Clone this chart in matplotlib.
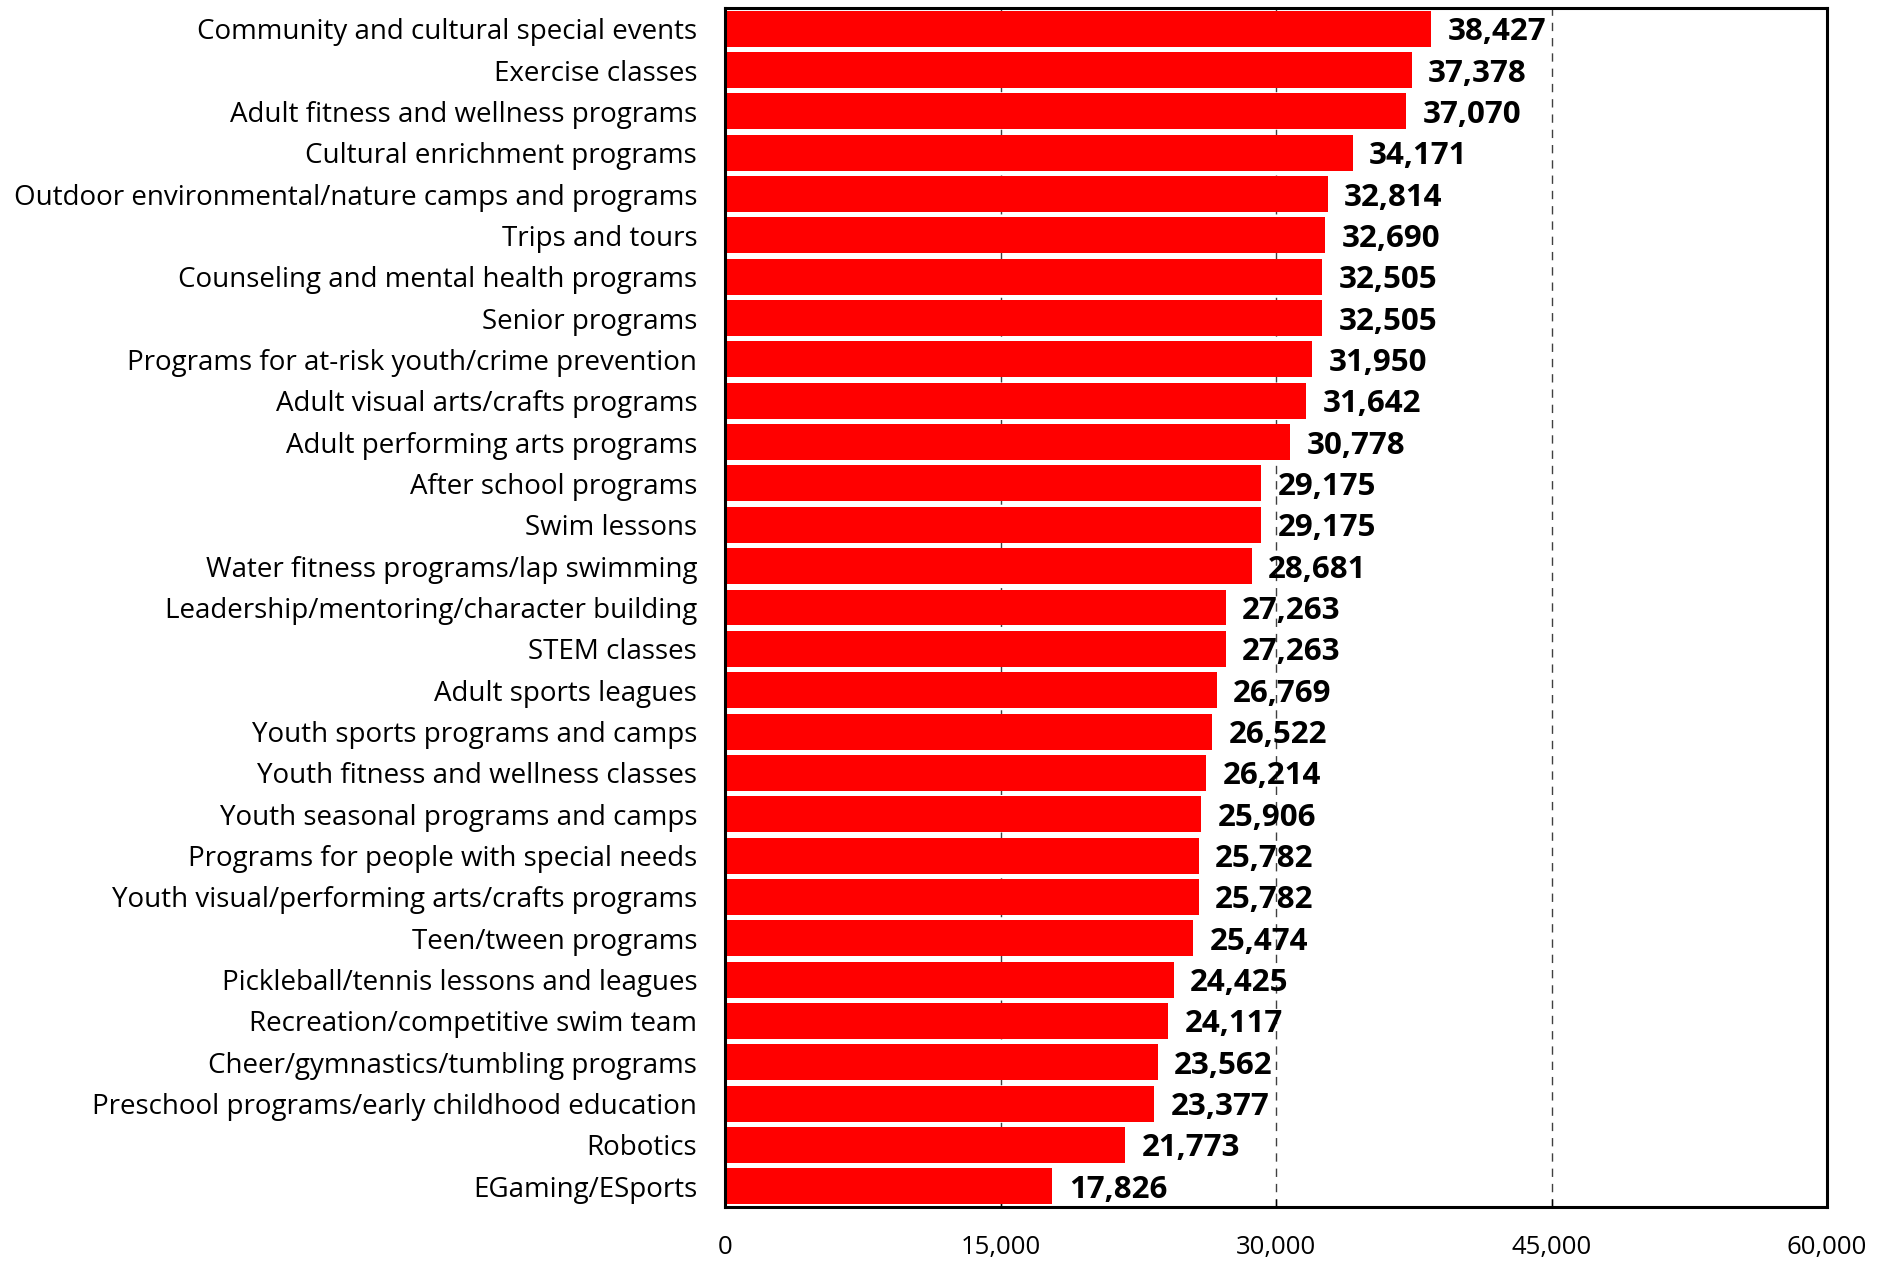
import matplotlib.pyplot as plt
from matplotlib.ticker import FuncFormatter

plt.rcParams['font.family'] = ['Open Sans', 'DejaVu Sans']

programs = [
    'Community and cultural special events',
    'Exercise classes',
    'Adult fitness and wellness programs',
    'Cultural enrichment programs',
    'Outdoor environmental/nature camps and programs',
    'Trips and tours',
    'Counseling and mental health programs',
    'Senior programs',
    'Programs for at-risk youth/crime prevention',
    'Adult visual arts/crafts programs',
    'Adult performing arts programs',
    'After school programs',
    'Swim lessons',
    'Water fitness programs/lap swimming',
    'Leadership/mentoring/character building',
    'STEM classes',
    'Adult sports leagues',
    'Youth sports programs and camps',
    'Youth fitness and wellness classes',
    'Youth seasonal programs and camps',
    'Programs for people with special needs',
    'Youth visual/performing arts/crafts programs',
    'Teen/tween programs',
    'Pickleball/tennis lessons and leagues',
    'Recreation/competitive swim team',
    'Cheer/gymnastics/tumbling programs',
    'Preschool programs/early childhood education',
    'Robotics',
    'EGaming/ESports',
]
households = [
    38427, 37378, 37070, 34171, 32814, 32690, 32505, 32505, 31950, 31642,
    30778, 29175, 29175, 28681, 27263, 27263, 26769, 26522, 26214, 25906,
    25782, 25782, 25474, 24425, 24117, 23562, 23377, 21773, 17826,
]
x_ticks = [0, 15000, 30000, 45000, 60000]


def main() -> None:
    fig = plt.figure(figsize=(18.91, 12.64), dpi=100)
    ax = fig.add_axes([725 / 1891, 1 - 1207 / 1264, 1102 / 1891, 1199 / 1264])

    ypos = list(range(len(programs)))
    bars = ax.barh(ypos, households, height=0.87, color='#ff0000', zorder=2)

    # value labels at the end of each bar
    for bar, val in zip(bars, households):
        ax.text(
            bar.get_width() + 900,
            bar.get_y() + bar.get_height() / 2,
            f'{val:,}',
            va='center_baseline',
            ha='left',
            fontsize=22.5,
            fontweight='bold',
            zorder=4,
        )

    ax.set_xlim(0, 60000)
    ax.set_ylim(len(programs) - 0.5, -0.5)
    ax.set_xticks(x_ticks)
    ax.xaxis.set_major_formatter(FuncFormatter(lambda v, _: f'{int(v):,}'))
    ax.set_yticks(ypos)
    ax.set_yticklabels(programs)

    ax.tick_params(axis='y', length=0, pad=20, labelsize=20)
    ax.tick_params(axis='x', direction='in', length=6, width=1, pad=20, labelsize=18.5)

    ax.grid(axis='x', color='#404040', linestyle=(0, (6, 5)), linewidth=1, zorder=1)
    ax.set_axisbelow(True)

    for spine in ax.spines.values():
        spine.set_linewidth(2.2)
        spine.set_color('black')

    fig.savefig('out.png', dpi=100)


if __name__ == '__main__':
    main()
